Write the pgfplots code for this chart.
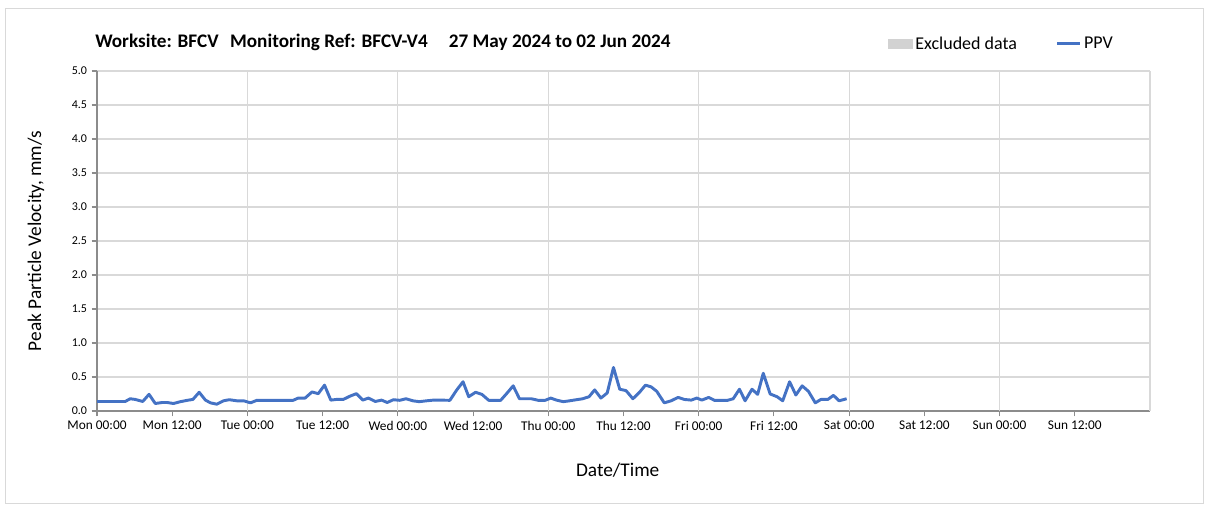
\documentclass[border=0pt]{standalone}
\usepackage{fontspec}
\setmainfont{Carlito}
\usepackage{pgfplots}
\pgfplotsset{compat=1.18}
\definecolor{ppvblue}{RGB}{68,114,196}
\definecolor{gridgray}{RGB}{217,217,217}
\definecolor{axisgray}{RGB}{140,140,140}
\definecolor{exclgray}{RGB}{210,210,210}
\begin{document}
\begin{tikzpicture}
\path[use as bounding box] (0,0) rectangle (906pt,379.5pt);
\draw[gridgray, line width=0.6pt] (3.75pt,2.25pt) rectangle (902.25pt,373.5pt);
\node[anchor=base west, font=\bfseries\fontsize{14.4}{16}\selectfont, inner sep=0pt] at (71.25pt,344pt)
  {Worksite: BFCV\hspace{0.6em}Monitoring Ref: BFCV-V4\hspace{1.1em}27 May 2024 to 02 Jun 2024};
\begin{axis}[
  at={(72.75pt,71.25pt)}, anchor=south west,
  scale only axis, width=789.75pt, height=255pt,
  xmin=0, xmax=168, ymin=0, ymax=5,
  axis x line*=bottom, axis y line*=left,
  axis line style={axisgray, line width=0.8pt},
  xtick={0,12,...,156},
  xticklabels={Mon 00:00, Mon 12:00, Tue 00:00, Tue 12:00, Wed 00:00, Wed 12:00, Thu 00:00, Thu 12:00, Fri 00:00, Fri 12:00, Sat 00:00, Sat 12:00, Sun 00:00, Sun 12:00},
  extra x ticks={24,48,...,168},
  extra x tick labels={},
  extra x tick style={xmajorgrids=true, major tick length=0pt},
  ytick={0,0.5,...,5},
  ymajorgrids=true,
  grid style={gridgray, line width=0.8pt},
  tick align=outside,
  major tick length=4pt,
  tick style={axisgray, line width=0.8pt},
  yticklabel style={/pgf/number format/fixed, /pgf/number format/fixed zerofill, /pgf/number format/precision=1, font=\fontsize{9}{10}\selectfont},
  xticklabel style={font=\fontsize{10}{11}\selectfont},
  /pgf/number format/assume math mode=true,
  xlabel={Date/Time},
  ylabel={Peak Particle Velocity, mm/s},
  label style={font=\fontsize{14.5}{16}\selectfont},
  xlabel style={at={(axis description cs:0.4945,-0.1735)}, anchor=center},
  ylabel style={at={(axis description cs:-0.058,0.5)}, anchor=center},
  legend style={at={(0.859,1.08)}, anchor=center, draw=none, fill=none, font=\fontsize{13.5}{15}\selectfont, legend columns=2, /tikz/every even column/.append style={column sep=27pt}},
  clip=false,
]
\addlegendimage{legend image code/.code={\fill[exclgray] (0cm,-0.11cm) rectangle (0.65cm,0.11cm);}}
\addlegendentry{Excluded data}
\addplot[ppvblue, line width=2.2pt, line join=round] coordinates {
(0,0.14) (4.5,0.14) (5.3,0.18) (6.1,0.17) (7.3,0.14) (8.3,0.245) (9.3,0.11) (10.4,0.125) (11.2,0.125) (12.2,0.11)
(13.3,0.137) (14.4,0.157) (15.3,0.17) (16.3,0.275) (17.3,0.16) (18.1,0.12) (19.1,0.10) (20.2,0.15) (21.1,0.166) (22.3,0.15)
(23.4,0.15) (24.5,0.12) (25.5,0.157) (31.3,0.157) (32.1,0.19) (33.2,0.19) (34.3,0.28) (35.3,0.255) (36.3,0.38) (37.3,0.16)
(38.2,0.17) (39.3,0.17) (40.4,0.22) (41.4,0.255) (42.4,0.16) (43.3,0.19) (44.4,0.14) (45.4,0.16) (46.3,0.125) (47.3,0.166)
(48.3,0.157) (49.3,0.18) (50.4,0.15) (51.4,0.137) (52.6,0.15) (53.7,0.16) (54.7,0.16) (56.3,0.157) (57.4,0.31) (58.4,0.43)
(59.3,0.21) (60.4,0.275) (61.4,0.245) (62.5,0.157) (64.4,0.157) (65.3,0.25) (66.4,0.37) (67.4,0.18) (69.3,0.18) (70.4,0.157)
(71.5,0.157) (72.4,0.19) (73.3,0.16) (74.4,0.137) (75.4,0.15) (76.5,0.166) (77.5,0.18) (78.5,0.21) (79.4,0.31) (80.4,0.19)
(81.4,0.265) (82.4,0.64) (83.4,0.32) (84.4,0.30) (85.5,0.18) (86.6,0.28) (87.5,0.38) (88.4,0.355) (89.3,0.29) (90.5,0.12)
(91.6,0.15) (92.7,0.2) (93.7,0.17) (94.8,0.16) (95.7,0.19) (96.5,0.16) (97.6,0.2) (98.5,0.157) (100.6,0.157) (101.5,0.18)
(102.5,0.32) (103.4,0.15) (104.5,0.32) (105.4,0.245) (106.3,0.555) (107.4,0.25) (108.5,0.21) (109.4,0.15) (110.5,0.43) (111.5,0.235)
(112.5,0.37) (113.5,0.29) (114.6,0.12) (115.5,0.17) (116.6,0.17) (117.5,0.23) (118.4,0.15) (119.6,0.18)
};
\addlegendentry{PPV}
\end{axis}
\end{tikzpicture}
\end{document}
